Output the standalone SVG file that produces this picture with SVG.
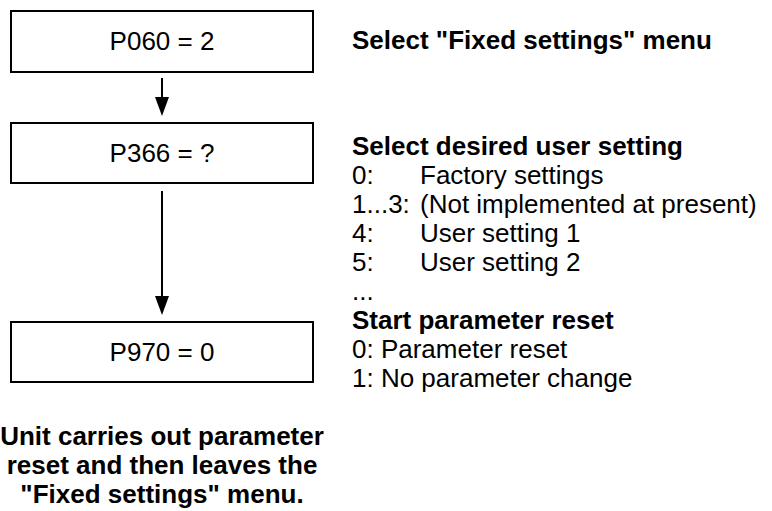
<svg xmlns="http://www.w3.org/2000/svg" width="772" height="511" viewBox="0 0 772 511">
<style>
.box{fill:#fff;stroke:#000;stroke-width:2}
.t{font-family:"Liberation Sans",Arial,sans-serif;font-size:26px;fill:#000}
.b{font-weight:bold}
.c{text-anchor:middle}
.ln{stroke:#000;stroke-width:2;fill:none}
.head{fill:#000}
</style>
<rect width="772" height="511" fill="#fff"/>
<g id="connectors">
<line class="ln" x1="162" y1="78" x2="162" y2="98"/>
<path class="head" d="M155,97 L169,97 L162,116 Z"/>
<line class="ln" x1="162" y1="191" x2="162" y2="297"/>
<path class="head" d="M155,296 L169,296 L162,315 Z"/>
</g>
<g id="node-p060">
<rect class="box" x="11" y="11" width="302" height="61"/>
<text class="t c" x="162" y="50">P060 = 2</text>
</g>
<g id="node-p366">
<rect class="box" x="11" y="123" width="302" height="60"/>
<text class="t c" x="162" y="162">P366 = ?</text>
</g>
<g id="node-p970">
<rect class="box" x="11" y="322" width="302" height="60"/>
<text class="t c" x="162" y="361">P970 = 0</text>
</g>
<g id="note-result">
<text class="t b c" x="162" y="445">Unit carries out parameter</text>
<text class="t b c" x="162" y="474">reset and then leaves the</text>
<text class="t b c" x="162" y="503">"Fixed settings" menu.</text>
</g>
<g id="desc-p060">
<text class="t b" x="352" y="49">Select "Fixed settings" menu</text>
</g>
<g id="desc-p366">
<text class="t b" x="352" y="155">Select desired user setting</text>
<text class="t" x="352" y="184">0:</text><text class="t" x="420" y="184">Factory settings</text>
<text class="t" x="352" y="213">1...3:</text><text class="t" x="420" y="213">(Not implemented at present)</text>
<text class="t" x="352" y="242">4:</text><text class="t" x="420" y="242">User setting 1</text>
<text class="t" x="352" y="271">5:</text><text class="t" x="420" y="271">User setting 2</text>
<text class="t" x="352" y="300">...</text>
</g>
<g id="desc-p970">
<text class="t b" x="352" y="329">Start parameter reset</text>
<text class="t" x="352" y="358">0: Parameter reset</text>
<text class="t" x="352" y="387">1: No parameter change</text>
</g>
</svg>
